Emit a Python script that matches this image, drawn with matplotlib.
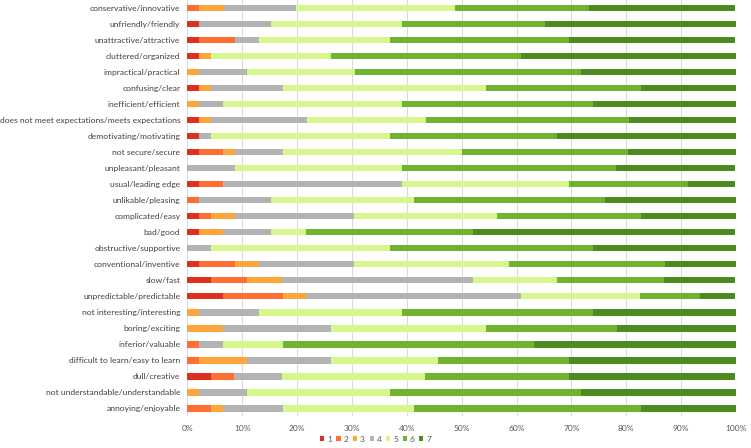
import matplotlib
matplotlib.use("Agg")
import matplotlib.pyplot as plt
from matplotlib import font_manager
import numpy as np

# ── Data (percent of answers per scale level, rows top to bottom) ──
categories = [
    "conservative/innovative", "unfriendly/friendly", "unattractive/attractive",
    "cluttered/organized", "impractical/practical", "confusing/clear",
    "inefficient/efficient", "does not meet expectations/meets expectations",
    "demotivating/motivating", "not secure/secure", "unpleasant/pleasant",
    "usual/leading edge", "unlikable/pleasing", "complicated/easy", "bad/good",
    "obstructive/supportive", "conventional/inventive", "slow/fast",
    "unpredictable/predictable", "not interesting/interesting", "boring/exciting",
    "inferior/valuable", "difficult to learn/easy to learn", "dull/creative",
    "not understandable/understandable", "annoying/enjoyable",
]

level_1 = [0.0, 2.2, 2.2, 2.2, 0.0, 2.2, 0.0, 2.2, 2.2, 2.2, 0.0, 2.2, 0.0,
           2.2, 2.2, 0.0, 2.2, 4.3, 6.5, 0.0, 0.0, 0.0, 0.0, 4.3, 0.0, 0.0]
level_2 = [2.2, 0.0, 6.5, 0.0, 0.0, 0.0, 0.0, 0.0, 0.0, 4.3, 0.0, 4.3, 2.2,
           2.2, 0.0, 0.0, 6.5, 6.5, 10.9, 0.0, 0.0, 2.2, 2.2, 4.3, 0.0, 4.3]
level_3 = [4.4, 0.0, 0.0, 2.2, 2.2, 2.2, 2.2, 2.2, 0.0, 2.2, 0.0, 0.0, 0.0,
           4.3, 4.3, 0.0, 4.3, 6.5, 4.3, 2.2, 6.5, 0.0, 8.7, 0.0, 2.2, 2.2]
level_4 = [13.3, 13.0, 4.3, 0.0, 8.7, 13.0, 4.3, 17.4, 2.2, 8.7, 8.7, 32.6, 13.0,
           21.7, 8.7, 4.3, 17.4, 34.8, 39.1, 10.9, 19.6, 4.3, 15.2, 8.7, 8.7, 10.9]
level_5 = [28.9, 23.9, 23.9, 21.7, 19.6, 37.0, 32.6, 21.7, 32.6, 32.6, 30.4, 30.4, 26.1,
           26.1, 6.5, 32.6, 28.3, 15.2, 21.7, 26.1, 28.3, 10.9, 19.6, 26.1, 26.1, 23.9]
level_6 = [24.4, 26.1, 32.6, 34.8, 41.3, 28.2, 34.8, 37.0, 30.4, 30.4, 39.1, 21.7, 34.8,
           26.1, 30.4, 37.0, 28.3, 19.6, 10.9, 34.8, 23.9, 45.7, 23.9, 26.1, 34.8, 41.3]
level_7 = [26.7, 34.8, 30.4, 39.1, 28.2, 17.4, 26.1, 19.6, 32.6, 19.6, 21.7, 8.7, 23.9,
           17.4, 47.8, 26.1, 13.0, 13.0, 6.5, 26.1, 21.7, 37.0, 30.4, 30.4, 28.3, 17.4]

levels = ["1", "2", "3", "4", "5", "6", "7"]
COLORS = ["#dc2f1e", "#ff6f33", "#ffa63a", "#b3b3b3", "#d5f78c", "#70b32e", "#4b8b1f"]


def main():
    # Calibri-like narrow face if there is one, otherwise a smaller Lato
    names = {f.name for f in font_manager.fontManager.ttflist}
    if "Liberation Sans Narrow" in names:
        plt.rcParams["font.family"] = ["Liberation Sans Narrow", "DejaVu Sans"]
        label_size = 7.6
    else:
        plt.rcParams["font.family"] = ["Lato", "DejaVu Sans"]
        label_size = 6.1

    fig = plt.figure(figsize=(7.51, 4.48), dpi=100)
    ax = fig.add_axes([0.2494, 0.071, 0.7306, 0.929])

    series = [level_1, level_2, level_3, level_4, level_5, level_6, level_7]
    y = np.arange(len(categories))
    left = np.zeros(len(categories))
    for name, vals, color in zip(levels, series, COLORS):
        vals = np.array(vals)
        ax.barh(y, vals, left=left, height=0.42, color=color, label=name, zorder=3)
        left += vals

    ax.set_ylim(len(categories) - 0.5, -0.5)
    ax.set_xlim(0, 100)
    ax.set_yticks(y)
    ax.set_yticklabels(categories, fontsize=label_size, color="#404040")
    ax.set_xticks(np.arange(0, 101, 10))
    ax.set_xticklabels([f"{v}%" for v in range(0, 101, 10)], fontsize=6, color="#595959")
    ax.tick_params(length=0, pad=5)
    ax.tick_params(axis="x", pad=6)
    ax.grid(axis="x", color="#d9d9d9", linewidth=0.7, zorder=0)
    for s in ax.spines.values():
        s.set_visible(False)

    fig.legend(loc="lower center", bbox_to_anchor=(0.5, -0.005), ncol=7, frameon=False,
               fontsize=6, handlelength=0.5, handleheight=0.5, handletextpad=0.35,
               columnspacing=0.55, labelcolor="#595959")

    fig.savefig("out.png", dpi=100)
    plt.close(fig)


if __name__ == "__main__":
    main()
